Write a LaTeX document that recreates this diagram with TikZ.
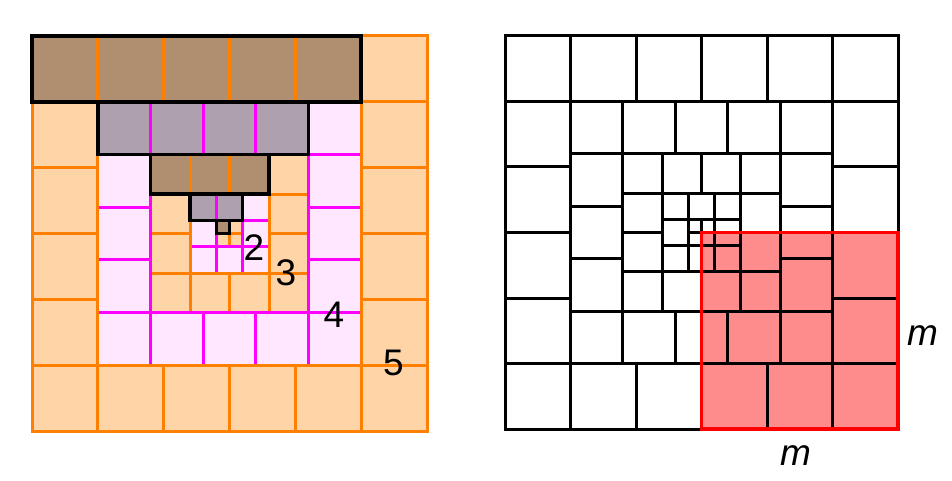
\documentclass[tikz,border=0pt]{standalone}
\usepackage{fontspec}
\setmainfont{Liberation Sans}
\definecolor{ofill}{RGB}{255,213,168}
\definecolor{oline}{RGB}{255,128,0}
\definecolor{pfill}{RGB}{255,232,255}
\definecolor{pline}{RGB}{255,0,255}
\definecolor{brownc}{RGB}{175,143,112}
\definecolor{grayc}{RGB}{175,160,175}
\definecolor{redfill}{RGB}{255,140,140}
\tikzset{
  lbl/.style={font=\fontsize{37}{40}\selectfont, inner sep=0pt, anchor=base},
  mlbl/.style={font=\fontsize{37}{40}\selectfont\itshape, inner sep=0pt, anchor=base},
  outl/.style={draw=black, line width=3.4},
  blk/.style={draw=black, line width=3},
}
% ring of a (n x n) grid: ox oy c n light dark line
\newcommand\drawring[7]{%
  \pgfmathtruncatemacro\nn{#4-1}%
  \foreach \i in {0,...,\nn}{%
    \foreach \j in {0,...,\nn}{%
      \pgfmathtruncatemacro\isb{(\i==0)||(\j==0)||(\i==\nn)||(\j==\nn)}%
      \ifnum\isb=1
        \pgfmathtruncatemacro\isdark{(\j==0)&&(\i<\nn)}%
        \ifnum\isdark=1
          \filldraw[fill=#6, draw=#7, line width=3] ({#1+\i*#3},{#2+\j*#3}) rectangle ++(#3,#3);
        \else
          \filldraw[fill=#5, draw=#7, line width=3] ({#1+\i*#3},{#2+\j*#3}) rectangle ++(#3,#3);
        \fi
      \fi
    }%
  }%
}
% black-line ring, no fill: ox oy c n
\newcommand\drawringB[4]{%
  \pgfmathtruncatemacro\nn{#4-1}%
  \foreach \i in {0,...,\nn}{%
    \foreach \j in {0,...,\nn}{%
      \pgfmathtruncatemacro\isb{(\i==0)||(\j==0)||(\i==\nn)||(\j==\nn)}%
      \ifnum\isb=1
        \draw[blk] ({#1+\i*#3},{#2+\j*#3}) rectangle ++(#3,#3);
      \fi
    }%
  }%
}
\begin{document}
\begin{tikzpicture}[x=1pt,y=-1pt]
\useasboundingbox (0,0) rectangle (952,481);
\fill[white] (0,0) rectangle (952,481);
% ---------- left spiral ----------
\pgfmathsetmacro\L{395}
\pgfmathsetmacro\X{32}
\pgfmathsetmacro\Y{36}
% ring sizes
\pgfmathsetmacro\ca{\L/30}\pgfmathsetmacro\oa{7*\L/15}
\pgfmathsetmacro\cb{\L/15}\pgfmathsetmacro\ob{2*\L/5}
\pgfmathsetmacro\cc{\L/10}\pgfmathsetmacro\oc{3*\L/10}
\pgfmathsetmacro\cd{2*\L/15}\pgfmathsetmacro\od{\L/6}
\pgfmathsetmacro\ce{\L/6}\pgfmathsetmacro\oe{0}
\drawring{\X+\oa}{\Y+\oa}{\ca}{2}{ofill}{brownc}{oline}
\drawring{\X+\ob}{\Y+\ob}{\cb}{3}{pfill}{grayc}{pline}
\drawring{\X+\oc}{\Y+\oc}{\cc}{4}{ofill}{brownc}{oline}
\drawring{\X+\od}{\Y+\od}{\cd}{5}{pfill}{grayc}{pline}
\drawring{\X+\oe}{\Y+\oe}{\ce}{6}{ofill}{brownc}{oline}
\draw[outl] ({\X+\oa},{\Y+\oa}) rectangle ++({1*\ca},\ca);
\draw[outl] ({\X+\ob},{\Y+\ob}) rectangle ++({2*\cb},\cb);
\draw[outl] ({\X+\oc},{\Y+\oc}) rectangle ++({3*\cc},\cc);
\draw[outl] ({\X+\od},{\Y+\od}) rectangle ++({4*\cd},\cd);
\draw[outl] ({\X+\oe},{\Y+\oe}) rectangle ++({5*\ce},\ce);
\node[lbl] (l2) at (254,260) {2};
\node[lbl] (l3) at (286,285) {3};
\node[lbl] (l4) at (334,327) {4};
\node[lbl] (l5) at (393.5,375) {5};
% ---------- right spiral ----------
\pgfmathsetmacro\L{393}
\pgfmathsetmacro\X{505}
\pgfmathsetmacro\Y{36}
\pgfmathsetmacro\ca{\L/30}\pgfmathsetmacro\oa{7*\L/15}
\pgfmathsetmacro\cb{\L/15}\pgfmathsetmacro\ob{2*\L/5}
\pgfmathsetmacro\cc{\L/10}\pgfmathsetmacro\oc{3*\L/10}
\pgfmathsetmacro\cd{2*\L/15}\pgfmathsetmacro\od{\L/6}
\pgfmathsetmacro\ce{\L/6}
\coordinate (rc) at ({\X+\L/2},{\Y+\L/2});
\coordinate (rbr) at ({\X+\L},{\Y+\L});
\fill[redfill] (rc) rectangle (rbr);
\drawringB{\X+\oa}{\Y+\oa}{\ca}{2}
\drawringB{\X+\ob}{\Y+\ob}{\cb}{3}
\drawringB{\X+\oc}{\Y+\oc}{\cc}{4}
\drawringB{\X+\od}{\Y+\od}{\cd}{5}
\drawringB{\X}{\Y}{\ce}{6}
\draw[red, line width=3.6] (rc) rectangle (rbr);
\node[mlbl] (mr) at (923,345) {m};
\node[mlbl] (mb) at (796,465) {m};
\end{tikzpicture}
\end{document}
